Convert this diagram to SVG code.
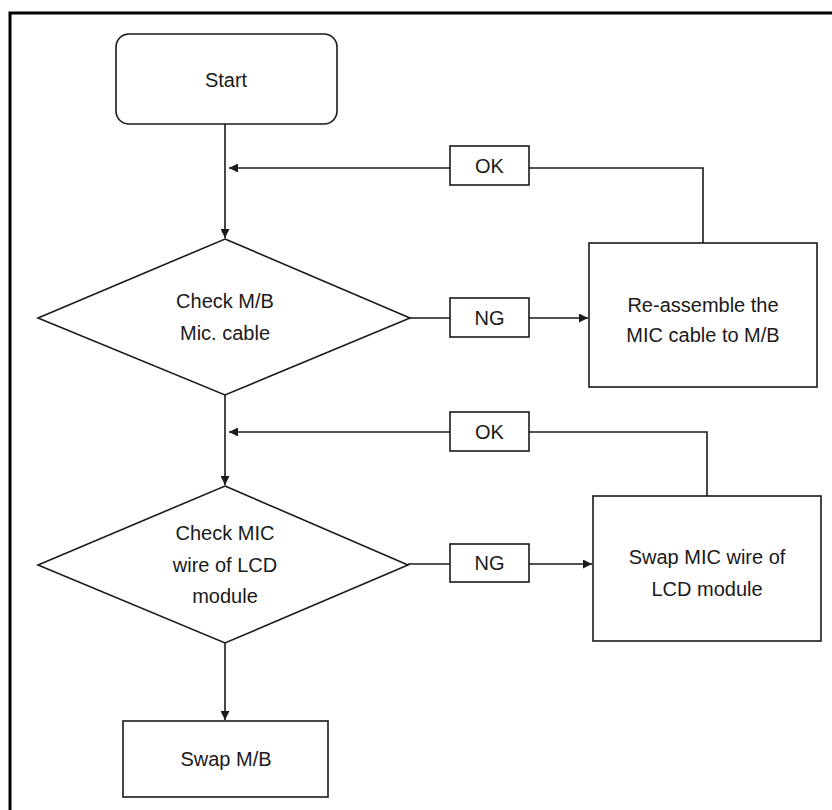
<svg xmlns="http://www.w3.org/2000/svg" width="832" height="810" viewBox="0 0 832 810">
<style>
.shape{fill:#ffffff;stroke:#1a1a1a;stroke-width:1.6}
.line{fill:none;stroke:#1a1a1a;stroke-width:1.6}
text{font-family:"Liberation Sans",Arial,sans-serif;font-size:20px;fill:#1a1a1a;text-anchor:middle}
</style>
<defs>
<marker id="arrow" viewBox="0 0 10 10" refX="10" refY="5" markerWidth="11" markerHeight="9" markerUnits="userSpaceOnUse" orient="auto">
<path d="M0,0 L10,5 L0,10 z" fill="#1a1a1a"/>
</marker>
</defs>
<rect x="0" y="0" width="832" height="810" fill="#ffffff"/>
<path d="M10,812 L10,13 L834,13" fill="none" stroke="#000" stroke-width="3"/>
<g id="connectors">
<path class="line" d="M225,124 L225,238" marker-end="url(#arrow)"/>
<path class="line" d="M703,243 L703,168 L529,168"/>
<path class="line" d="M450,168 L229,168" marker-end="url(#arrow)"/>
<path class="line" d="M410,318 L450,318"/>
<path class="line" d="M529,318 L588,318" marker-end="url(#arrow)"/>
<path class="line" d="M225,395 L225,485" marker-end="url(#arrow)"/>
<path class="line" d="M707,496 L707,432 L529,432"/>
<path class="line" d="M450,432 L229,432" marker-end="url(#arrow)"/>
<path class="line" d="M408,564 L450,564"/>
<path class="line" d="M529,564 L592,564" marker-end="url(#arrow)"/>
<path class="line" d="M225,643 L225,720" marker-end="url(#arrow)"/>
</g>
<g id="start">
<rect class="shape" x="116" y="34" width="221" height="90" rx="13"/>
<text x="226" y="87">Start</text>
</g>
<g id="check-mb">
<polygon class="shape" points="225,239 410,318 225,395 38,318"/>
<text x="225" y="308">Check M/B</text>
<text x="225" y="340">Mic. cable</text>
</g>
<g id="ok1">
<rect class="shape" x="450" y="146" width="79" height="39"/>
<text x="489.5" y="173">OK</text>
</g>
<g id="ng1">
<rect class="shape" x="450" y="298" width="79" height="39"/>
<text x="489.5" y="325">NG</text>
</g>
<g id="reassemble">
<rect class="shape" x="589" y="243" width="228" height="144"/>
<text x="703" y="312">Re-assemble the</text>
<text x="703" y="342">MIC cable to M/B</text>
</g>
<g id="check-mic">
<polygon class="shape" points="225,486 408,565 225,643 38,565"/>
<text x="225" y="540">Check MIC</text>
<text x="225" y="572">wire of LCD</text>
<text x="225" y="603">module</text>
</g>
<g id="ok2">
<rect class="shape" x="450" y="412" width="79" height="39"/>
<text x="489.5" y="439">OK</text>
</g>
<g id="ng2">
<rect class="shape" x="450" y="544" width="79" height="38"/>
<text x="489.5" y="570">NG</text>
</g>
<g id="swap-mic">
<rect class="shape" x="593" y="496" width="228" height="145"/>
<text x="707" y="564">Swap MIC wire of</text>
<text x="707" y="596">LCD module</text>
</g>
<g id="swap-mb">
<rect class="shape" x="123" y="721" width="205" height="76"/>
<text x="226" y="766">Swap M/B</text>
</g>
</svg>
